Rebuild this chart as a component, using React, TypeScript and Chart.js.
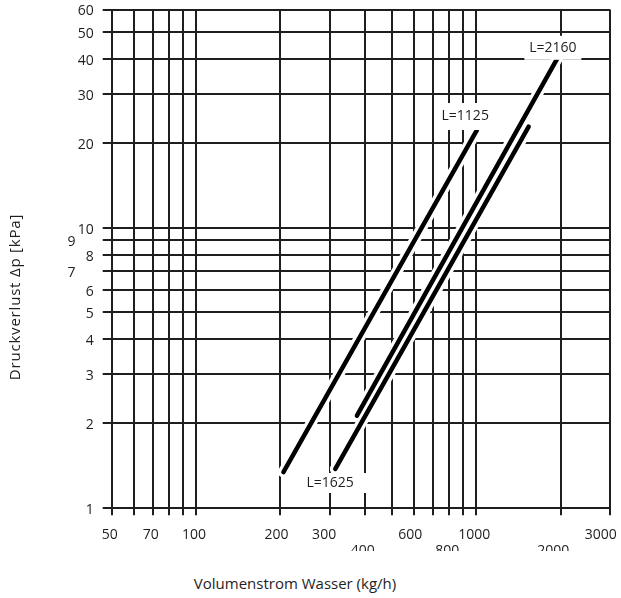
import React, { useEffect, useRef } from 'react';
import { Chart, registerables } from 'chart.js';

Chart.register(...registerables);

// ---- data ----
const xTickValues = [50, 60, 70, 80, 90, 100, 200, 300, 400, 500, 600, 700, 800, 900, 1000, 2000, 3000];
const xTickLabelsRow1 = [50, 70, 100, 200, 300, 600, 1000, 3000];
const xTickLabelsRow2 = [400, 800, 2000];
const yTickValues = [1, 2, 3, 4, 5, 6, 7, 8, 9, 10, 20, 30, 40, 50, 60];
const yTickLabels = [1, 2, 3, 4, 5, 6, 8, 10, 20, 30, 40, 50, 60];
const yTickLabelsShifted = [7, 9];

const curveNames = ['L=1125', 'L=1625', 'L=2160'];
const flowL1125 = [205, 1006];
const dpL1125 = [1.34, 22.3];
const flowL1625 = [314, 1538];
const dpL1625 = [1.375, 22.9];
const flowL2160 = [375, 1951];
const dpL2160 = [2.13, 40.3];

// label anchors (data units)
const labelFlow = [913, 301, 1876];
const labelDp = [24.9, 1.225, 43.8];

const xTitle = 'Volumenstrom Wasser (kg/h)';
const yTitle = 'Druckverlust Δp [kPa]';

// ---- styles ----
const FONT = '"Open Sans", "DejaVu Sans", sans-serif';
const INK = '#1e1e1e';
const labelBoxes = [
  { w: 56, h: 27, dx: 0 },
  { w: 68, h: 20, dx: 4 },
  { w: 57, h: 24, dx: 0 },
];
// trailing spaces nudge a centred label leftwards (as in the original artwork)
const xLabelNudge: Record<number, number> = { 200: 1, 300: 2, 600: 1, 2000: 3, 3000: 4 };

const toPts = (xs: number[], ys: number[]) => xs.map((x, i) => ({ x, y: ys[i] }));

const labelPlugin = {
  id: 'curveLabels',
  afterDatasetsDraw(chart: any) {
    const { ctx, scales } = chart;
    ctx.save();
    ctx.font = '14px ' + FONT;
    ctx.textAlign = 'center';
    ctx.textBaseline = 'middle';
    curveNames.forEach((name, i) => {
      const px = scales.x.getPixelForValue(labelFlow[i]);
      const py = scales.y.getPixelForValue(labelDp[i]);
      const b = labelBoxes[i];
      ctx.fillStyle = '#ffffff';
      ctx.fillRect(px - b.w / 2 + b.dx, py - b.h / 2, b.w, b.h);
      ctx.fillStyle = INK;
      ctx.fillText(name, px, py);
    });
    ctx.restore();
  },
};

const zeroPad = (s: any) => {
  s.paddingLeft = 0;
  s.paddingRight = 0;
  s.paddingTop = 0;
  s.paddingBottom = 0;
};

export default function App() {
  const ref = useRef<HTMLCanvasElement | null>(null);

  useEffect(() => {
    if (!ref.current) return;
    const series = [
      toPts(flowL1125, dpL1125),
      toPts(flowL1625, dpL1625),
      toPts(flowL2160, dpL2160),
    ];
    const halos = series.map((d, i) => ({
      label: curveNames[i] + ' halo',
      data: d,
      borderColor: '#ffffff',
      borderWidth: 11,
      borderCapStyle: 'round' as const,
      pointRadius: 0,
      showLine: true,
      order: 2,
    }));
    const lines = series.map((d, i) => ({
      label: curveNames[i],
      data: d,
      borderColor: '#000000',
      borderWidth: 4.5,
      borderCapStyle: 'round' as const,
      pointRadius: 0,
      showLine: true,
      order: 1,
    }));

    const chart = new Chart(ref.current, {
      type: 'scatter',
      data: { datasets: [...halos, ...lines] as any },
      plugins: [labelPlugin],
      options: {
        animation: false,
        responsive: false,
        events: [],
        layout: { padding: { top: 9.5, right: 11, left: 0, bottom: 0 } },
        plugins: { legend: { display: false }, tooltip: { enabled: false } },
        scales: {
          x: {
            type: 'logarithmic',
            min: 50,
            max: 3000,
            afterBuildTicks: (s: any) => {
              s.ticks = xTickValues.map((v) => ({ value: v }));
            },
            afterFit: (s: any) => {
              s.height = 43.3;
              zeroPad(s);
            },
            ticks: {
              autoSkip: false,
              maxRotation: 0,
              minRotation: 0,
              padding: 12,
              labelOffset: -2,
              color: INK,
              font: { family: FONT, size: 14, lineHeight: 1.15 },
              callback: (v: any) => {
                const n = Number(v);
                const txt = String(n) + ' '.repeat(xLabelNudge[n] || 0);
                if (xTickLabelsRow1.includes(n)) return txt;
                if (xTickLabelsRow2.includes(n)) return ['', txt];
                return '';
              },
            },
            grid: { color: INK, lineWidth: 2, tickLength: 7.5, drawTicks: true },
            border: { display: true, color: INK, width: 2 },
          },
          y: {
            type: 'logarithmic',
            min: 1,
            max: 60,
            afterBuildTicks: (s: any) => {
              s.ticks = yTickValues.map((v) => ({ value: v }));
            },
            afterFit: (s: any) => {
              s.width = 111.7;
              zeroPad(s);
            },
            ticks: {
              autoSkip: false,
              padding: 9,
              labelOffset: 2,
              color: INK,
              font: { family: FONT, size: 14 },
              callback: (v: any) => {
                const n = Number(v);
                if (yTickLabels.includes(n)) return String(n);
                if (yTickLabelsShifted.includes(n)) return String(n) + '     ';
                return '';
              },
            },
            grid: { color: INK, lineWidth: 2, tickLength: 9, drawTicks: true },
            border: { display: true, color: INK, width: 2 },
          },
        },
      } as any,
    });
    return () => chart.destroy();
  }, []);

  return (
    <div style={{ position: 'absolute', left: 0, top: 0, width: 621, height: 598, background: '#fff', fontFamily: FONT, color: INK }}>
      <canvas ref={ref} width={621} height={551} style={{ display: 'block', width: 621, height: 551 }} />
      <div style={{ position: 'absolute', left: 0, top: 573, width: 590, textAlign: 'center', fontSize: 15, lineHeight: '20px' }}>
        {xTitle}
      </div>
      <div
        style={{
          position: 'absolute',
          left: 14 - 150,
          top: 297 - 10,
          width: 300,
          height: 20,
          lineHeight: '20px',
          textAlign: 'center',
          fontSize: 15,
          letterSpacing: '0.8px',
          transform: 'rotate(-90deg)',
          whiteSpace: 'nowrap',
        }}
      >
        {yTitle}
      </div>
    </div>
  );
}
